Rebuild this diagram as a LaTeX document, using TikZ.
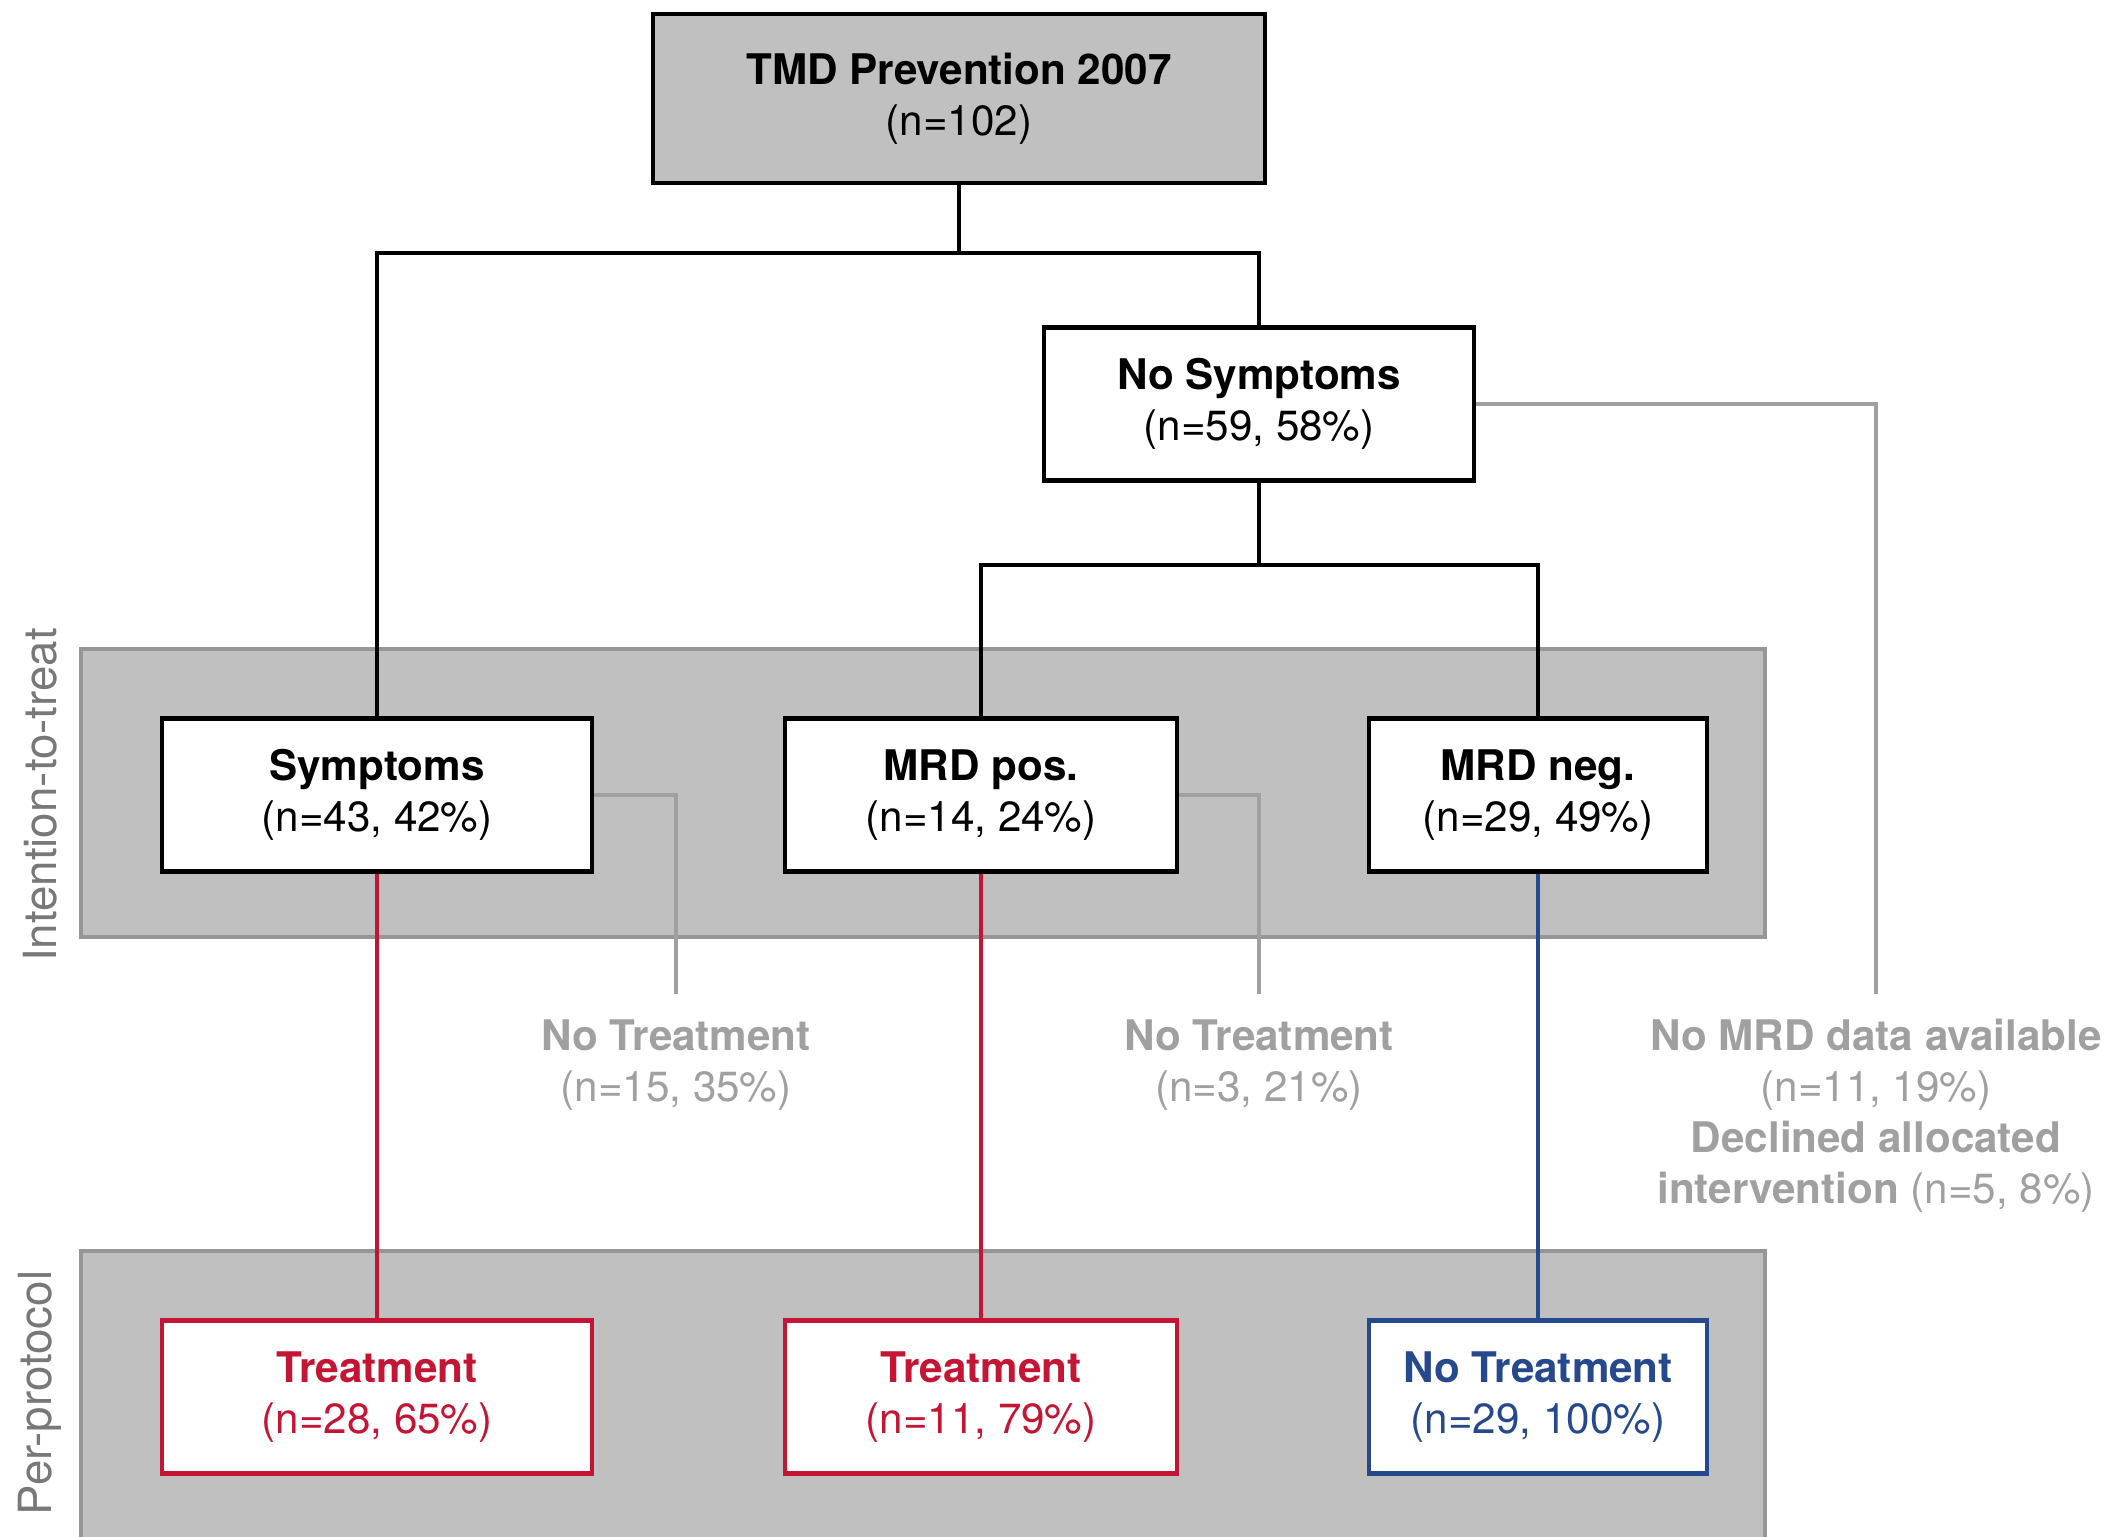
\documentclass[tikz,border=0pt]{standalone}
\usepackage{fontspec}
\setmainfont{TeX Gyre Heros}
\usetikzlibrary{calc}
\definecolor{tmdred}{RGB}{196,22,52}
\definecolor{tmdblue}{RGB}{38,72,140}
\definecolor{bandgray}{RGB}{192,192,192}
\definecolor{bandline}{RGB}{150,150,150}
\definecolor{dropgray}{RGB}{160,160,160}
\definecolor{sidegray}{RGB}{120,120,120}

\begin{document}
\begin{tikzpicture}[
		box/.style={draw=black, line width=1.3pt, fill=white, align=center, minimum height=1.53cm, font=\fontsize{12}{14.5}\selectfont, inner sep=0pt},
		redbox/.style={box, draw=tmdred, text=tmdred},
		bluebox/.style={box, draw=tmdblue, text=tmdblue},
		band/.style={fill=bandgray, draw=bandline, line width=1pt},
		link/.style={line width=1pt},
		droplink/.style={line width=1pt, draw=dropgray},
		droptext/.style={text=dropgray, align=center, font=\fontsize{12}{14.5}\selectfont},
		sidetext/.style={text=sidegray, rotate=90, font=\fontsize{13}{15}\selectfont}
	]
		%%%%% START %%%%%
		\useasboundingbox (0, 0) rectangle (21.21, 15.37);
		
		% background bands
		\draw[band] (0.81, 8.88) rectangle (17.65, 6.00);
		\draw[band] (0.81, 2.86) rectangle (17.65, -0.1);
		\node[sidetext] (itt) at (0.40, 7.42) {Intention-to-treat};
		\node[sidetext] (pp) at (0.40, 1.44) {Per-protocol};
		
		% boxes
		\node[box, fill=bandgray, minimum width=6.12cm, minimum height=1.69cm] (top) at (9.59, 14.385) {\textbf{TMD Prevention 2007}\\(n=102)};
		\node[box, minimum width=4.30cm] (nosymp) at (12.59, 11.33) {\textbf{No Symptoms}\\(n=59, 58\%)};
		\node[box, minimum width=4.30cm] (symp) at (3.77, 7.42) {\textbf{Symptoms}\\(n=43, 42\%)};
		\node[box, minimum width=3.92cm] (mrdpos) at (9.81, 7.42) {\textbf{MRD pos.}\\(n=14, 24\%)};
		\node[box, minimum width=3.38cm] (mrdneg) at (15.38, 7.42) {\textbf{MRD neg.}\\(n=29, 49\%)};
		
		\node[redbox, minimum width=4.30cm] (treat1) at (3.77, 1.40) {\textbf{Treatment}\\(n=28, 65\%)};
		\node[redbox, minimum width=3.92cm] (treat2) at (9.81, 1.40) {\textbf{Treatment}\\(n=11, 79\%)};
		\node[bluebox, minimum width=3.38cm] (notreat) at (15.38, 1.40) {\textbf{No Treatment}\\(n=29, 100\%)};
		
		% drop-out texts
		\node[droptext] (drop1) at (6.76, 4.72) {\textbf{No Treatment}\\(n=15, 35\%)};
		\node[droptext] (drop2) at (12.59, 4.72) {\textbf{No Treatment}\\(n=3, 21\%)};
		\node[droptext] (drop3) at (18.76, 4.21) {\textbf{No MRD data available}\\(n=11, 19\%)\\\textbf{Declined allocated}\\\textbf{intervention} (n=5, 8\%)};
		
		% connectors
		\coordinate (split1) at (9.59, 12.84);
		\coordinate (split2) at (12.59, 9.72);
		\draw[link] (top.south) -- (split1);
		\draw[link] (symp.north) |- (split1) -| (nosymp.north);
		\draw[link] (nosymp.south) -- (split2);
		\draw[link] (mrdpos.north) |- (split2) -| (mrdneg.north);
		
		\draw[link, tmdred] (symp.south) -- (treat1.north);
		\draw[link, tmdred] (mrdpos.south) -- (treat2.north);
		\draw[link, tmdblue] (mrdneg.south) -- (notreat.north);
		
		\coordinate (end1) at (6.76, 5.43);
		\coordinate (end2) at (12.59, 5.43);
		\coordinate (end3) at (18.76, 5.43);
		\draw[droplink] (symp.east) -| (end1);
		\draw[droplink] (mrdpos.east) -| (end2);
		\draw[droplink] (nosymp.east) -| (end3);
		
		%%%%% END %%%%%
	\end{tikzpicture}
\end{document}
